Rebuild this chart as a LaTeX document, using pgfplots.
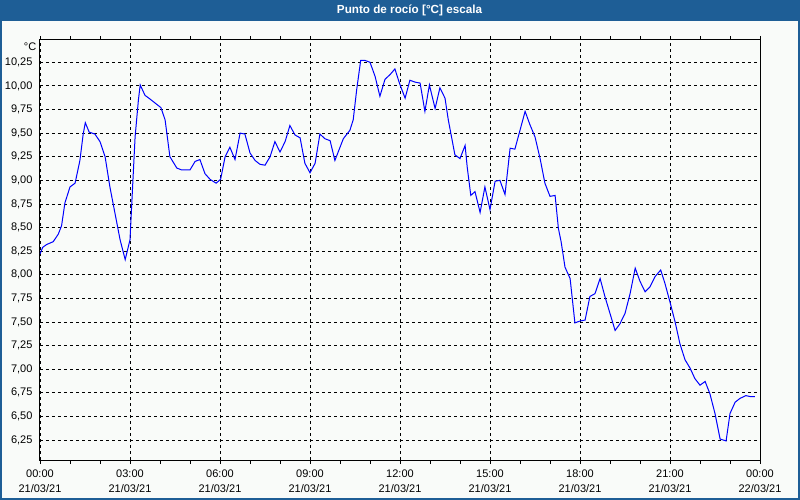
\documentclass[border=0pt]{standalone}
\usepackage{fontspec}
\setmainfont{Liberation Sans}
\usepackage{pgfplots}
\pgfplotsset{compat=1.18}
\definecolor{titlebar}{RGB}{30,94,150}
\definecolor{bgc}{RGB}{249,251,249}
\begin{document}
\begin{tikzpicture}
\fill[bgc] (0,0) rectangle (800pt,-500pt);
\fill[titlebar] (0,0) rectangle (800pt,-21pt);
\node[text=white, font=\fontsize{11.7}{13}\selectfont\bfseries] at (409.5pt,-10.5pt) {Punto de rocío [°C] escala};
\draw[titlebar, line width=2pt] (1pt,-1pt) rectangle (799pt,-499pt);
\node[anchor=east, inner sep=0pt, font=\fontsize{11}{13}\selectfont] at (36.5pt,-46.5pt) {°C};
\begin{axis}[at={(40pt,-40pt)}, anchor=north west,
  width=720pt, height=420pt, scale only axis,
  xmin=0, xmax=24, ymin=6.038, ymax=10.486,
  axis background/.style={fill=bgc},
  axis line style={black, line width=1pt},
  xtick={0,3,...,24},
  minor xtick={1,2,4,5,7,8,10,11,13,14,16,17,19,20,22,23},
  xticklabels={00:00\\21/03/21,03:00\\21/03/21,06:00\\21/03/21,09:00\\21/03/21,12:00\\21/03/21,15:00\\21/03/21,18:00\\21/03/21,21:00\\21/03/21,00:00\\22/03/21},
  xticklabel style={align=center, font=\fontsize{11}{15}\selectfont, yshift=-2pt},
  ytick={6.25,6.5,...,10.26},
  yticklabel style={font=\fontsize{11}{13}\selectfont,
    /pgf/number format/.cd, fixed, fixed zerofill, precision=2, use comma, assume math mode=true},
  tick align=outside,
  major tick length=4pt, minor tick length=4pt,
  xtick style={black, line width=0.8pt},
  every minor tick/.append style={black, line width=0.8pt},
  ytick style={draw=none},
  xmajorgrids, ymajorgrids,
  major grid style={black, line width=0.8pt, dash pattern=on 3pt off 3pt},
  clip=true,
]
\addplot[color={rgb,255:red,0;green,0;blue,255}, line width=1pt] table {
0.00 8.22
0.09 8.29
0.22 8.32
0.44 8.35
0.61 8.43
0.72 8.52
0.83 8.76
1.00 8.93
1.17 8.97
1.33 9.21
1.44 9.49
1.51 9.61
1.64 9.51
1.83 9.49
2.00 9.41
2.17 9.25
2.33 8.93
2.50 8.65
2.67 8.37
2.84 8.16
3.00 8.37
3.06 8.76
3.17 9.46
3.28 9.85
3.34 10.01
3.50 9.90
3.67 9.86
4.03 9.77
4.17 9.64
4.33 9.25
4.56 9.13
4.72 9.11
5.00 9.11
5.17 9.20
5.33 9.22
5.50 9.07
5.67 9.01
5.87 8.97
6.02 9.01
6.17 9.25
6.33 9.35
6.50 9.22
6.67 9.50
6.83 9.49
7.00 9.29
7.17 9.21
7.33 9.17
7.50 9.16
7.67 9.25
7.83 9.41
8.00 9.30
8.17 9.41
8.33 9.58
8.50 9.48
8.67 9.45
8.83 9.18
9.00 9.08
9.17 9.18
9.33 9.49
9.50 9.44
9.67 9.42
9.83 9.21
10.11 9.44
10.33 9.53
10.44 9.64
10.56 9.97
10.69 10.27
10.83 10.27
11.00 10.25
11.17 10.10
11.33 9.89
11.50 10.07
11.67 10.12
11.83 10.18
11.98 10.03
12.17 9.87
12.33 10.06
12.50 10.04
12.67 10.03
12.83 9.73
12.98 10.01
13.17 9.76
13.33 9.98
13.50 9.87
13.61 9.64
13.83 9.27
14.00 9.23
14.17 9.37
14.24 9.14
14.36 8.84
14.50 8.88
14.67 8.66
14.83 8.93
15.00 8.69
15.17 8.99
15.33 9.00
15.50 8.85
15.67 9.34
15.83 9.33
16.17 9.73
16.33 9.59
16.50 9.46
16.67 9.23
16.83 8.97
17.00 8.83
17.17 8.84
17.28 8.49
17.37 8.35
17.50 8.08
17.67 7.96
17.83 7.49
18.00 7.51
18.17 7.52
18.33 7.77
18.50 7.80
18.67 7.96
18.83 7.77
19.17 7.41
19.33 7.48
19.50 7.59
19.67 7.80
19.84 8.07
20.00 7.93
20.17 7.82
20.33 7.87
20.50 7.98
20.69 8.05
20.83 7.91
21.00 7.71
21.17 7.50
21.33 7.27
21.50 7.10
21.67 7.01
21.83 6.90
22.00 6.83
22.17 6.87
22.33 6.74
22.50 6.53
22.67 6.26
22.87 6.24
23.00 6.53
23.17 6.65
23.33 6.69
23.53 6.72
23.67 6.71
23.83 6.71
};
\end{axis}
\end{tikzpicture}
\end{document}
